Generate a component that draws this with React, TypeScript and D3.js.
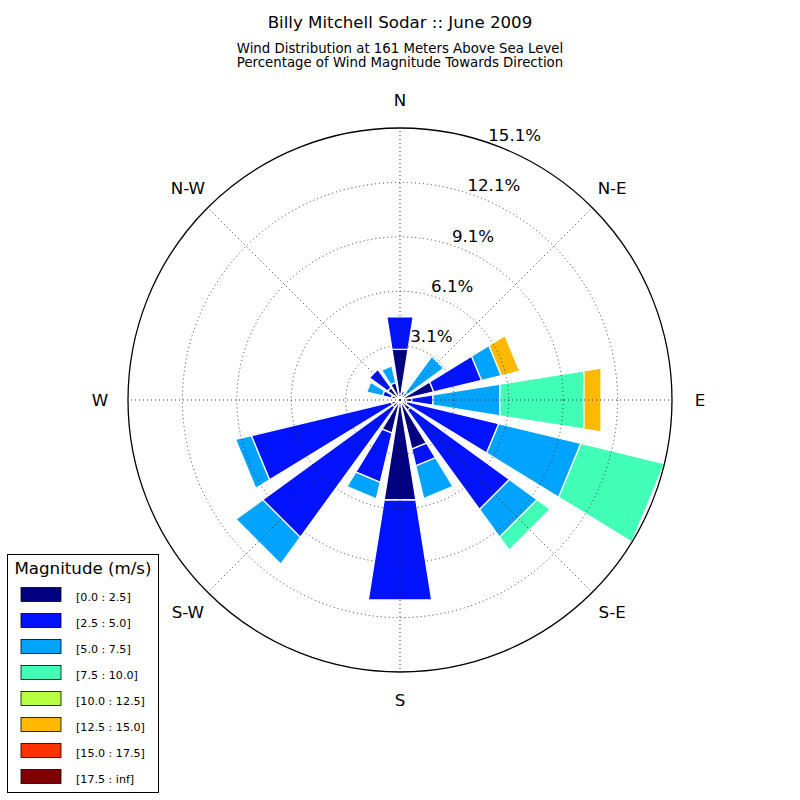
import React from "react";
import * as d3 from "d3";

// compass sectors, clockwise from north
const directions = ["N", "NNE", "NE", "ENE", "E", "ESE", "SE", "SSE", "S", "SSW", "SW", "WSW", "W", "WNW", "NW", "NNW"];

// percentage of wind per speed bin, one value per direction above
const speed0 = [2.85, 0.5, 0.3, 1.93, 0.67, 0.4, 0.7, 2.81, 5.62, 1.89, 0.5, 0.5, 0.3, 0.5, 0.85, 1.0];
const speed1 = [1.83, 0, 0.2, 2.73, 1.18, 5.24, 6.81, 0.95, 5.62, 2.81, 8.92, 7.99, 0, 0.5, 1.25, 0];
const speed2 = [0, 0, 2.5, 1.13, 3.77, 4.69, 1.9, 1.87, 0, 0.94, 1.84, 0.9, 0, 0.9, 0, 0.95];
const speed3 = [0, 0, 0, 0, 4.72, 4.77, 0.9, 0, 0, 0, 0, 0, 0, 0, 0, 0];
const speed4 = [0, 0, 0, 0, 0, 0, 0, 0, 0, 0, 0, 0, 0, 0, 0, 0];
const speed5 = [0, 0, 0, 1.05, 0.96, 0, 0, 0, 0, 0, 0, 0, 0, 0, 0, 0];
const speed6 = [0, 0, 0, 0, 0, 0, 0, 0, 0, 0, 0, 0, 0, 0, 0, 0];
const speed7 = [0, 0, 0, 0, 0, 0, 0, 0, 0, 0, 0, 0, 0, 0, 0, 0];

const binLabels = ["[0.0 : 2.5]", "[2.5 : 5.0]", "[5.0 : 7.5]", "[7.5 : 10.0]", "[10.0 : 12.5]", "[12.5 : 15.0]", "[15.0 : 17.5]", "[17.5 : inf]"];
const binColors = ["#000080", "#0012ff", "#00a4ff", "#41ffb6", "#b6ff41", "#ffb900", "#ff3200", "#800000"];

const ringValues = [3.02, 6.04, 9.06, 12.08, 15.1];
const ringLabels = ["3.1%", "6.1%", "9.1%", "12.1%", "15.1%"];
const compassLabels = ["N", "N-E", "E", "S-E", "S", "S-W", "W", "N-W"];

const FONT = "DejaVu Sans, Verdana, sans-serif";

export default function App() {
  const width = 800;
  const height = 800;
  const cx = 400;
  const cy = 400;
  const outer = 272;

  const series = [speed0, speed1, speed2, speed3, speed4, speed5, speed6, speed7];
  const keys = series.map((_, i) => `b${i}`);
  const rows = directions.map((dir, i) => {
    const row: any = { dir };
    series.forEach((s, k) => (row[keys[k]] = s[i]));
    return row;
  });
  const stacked = d3.stack().keys(keys)(rows);

  const rScale = d3.scaleLinear().domain([0, 15.1]).range([0, outer]);
  const angle = d3.scaleLinear().domain([0, directions.length]).range([0, 360]);
  const halfWidth = (360 / directions.length) * 0.8 / 2;

  // compass degrees -> screen point
  const pt = (deg: number, r: number) => {
    const a = (deg * Math.PI) / 180;
    return [cx + r * Math.sin(a), cy - r * Math.cos(a)];
  };

  const wedge = (i: number, r0: number, r1: number) => {
    const th = angle(i);
    const a = pt(th - halfWidth, r0);
    const b = pt(th + halfWidth, r0);
    const c = pt(th + halfWidth, r1);
    const d = pt(th - halfWidth, r1);
    return `M${a[0]},${a[1]}L${b[0]},${b[1]}L${c[0]},${c[1]}L${d[0]},${d[1]}Z`;
  };

  const gridStyle = { stroke: "#222", strokeWidth: 0.9, strokeDasharray: "1,3", fill: "none" };

  return (
    <svg width={width} height={height} style={{ position: "absolute", left: 0, top: 0, background: "#fff" }} fontFamily={FONT}>
      {/* titles */}
      <text x={400} y={27.5} textAnchor="middle" fontSize={16.67}>Billy Mitchell Sodar :: June 2009</text>
      <text x={400} y={53} textAnchor="middle" fontSize={13.3}>Wind Distribution at 161 Meters Above Sea Level</text>
      <text x={400} y={66.6} textAnchor="middle" fontSize={13.3}>Percentage of Wind Magnitude Towards Direction</text>

      {/* bars */}
      <g>
        {stacked.map((layer, k) =>
          layer.map((seg, i) =>
            seg[1] - seg[0] > 0 ? (
              <path
                key={`${k}-${i}`}
                d={wedge(i, rScale(seg[0]), rScale(seg[1]))}
                fill={binColors[k]}
                stroke="#fff"
                strokeWidth={1.3}
                strokeLinejoin="miter"
              />
            ) : null
          )
        )}
      </g>

      {/* grid on top */}
      <g>
        {ringValues.slice(0, -1).map((v) => (
          <circle key={v} cx={cx} cy={cy} r={rScale(v)} style={gridStyle} />
        ))}
        {compassLabels.map((_, i) => {
          const p = pt(i * 45, outer);
          return <line key={i} x1={cx} y1={cy} x2={p[0]} y2={p[1]} style={gridStyle} />;
        })}
        <circle cx={cx} cy={cy} r={outer} fill="none" stroke="#000" strokeWidth={1.3} />
      </g>

      {/* ring labels */}
      {ringValues.map((v, i) => {
        const p = pt(22.5, rScale(v));
        return (
          <text key={v} x={p[0] + 10.6} y={p[1] - 13.5 + 6} textAnchor="middle" fontSize={16.67}>
            {ringLabels[i]}
          </text>
        );
      })}

      {/* compass labels */}
      {compassLabels.map((lab, i) => {
        const p = pt(i * 45, 300);
        return (
          <text key={lab} x={p[0]} y={p[1] + 6.1} textAnchor="middle" fontSize={16.67}>
            {lab}
          </text>
        );
      })}

      {/* legend */}
      <g>
        <rect x={7.5} y={554.5} width={151} height={238} fill="#fff" stroke="#000" strokeWidth={1} />
        <text x={83} y={573.5} textAnchor="middle" fontSize={16.67}>Magnitude (m/s)</text>
        {binLabels.map((lab, k) => (
          <g key={lab} transform={`translate(0,${587.5 + k * 26})`}>
            <rect x={21} y={0} width={40} height={14} fill={binColors[k]} stroke="#000" strokeWidth={0.8} />
            <text x={76} y={13} fontSize={11.1}>{lab}</text>
          </g>
        ))}
      </g>
    </svg>
  );
}
